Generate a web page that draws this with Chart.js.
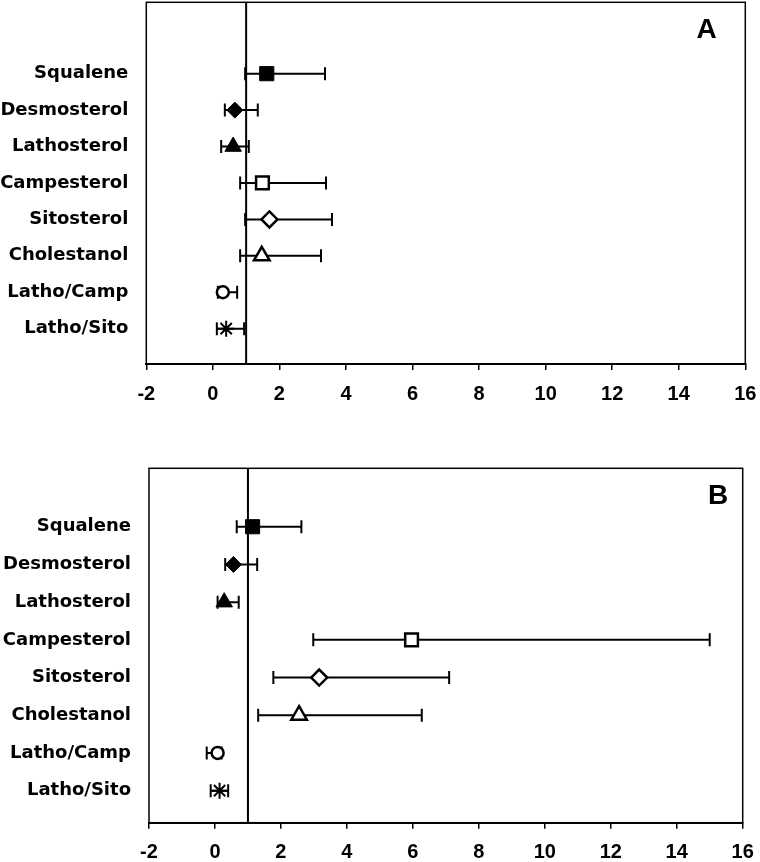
<!DOCTYPE html>
<html><head><meta charset="utf-8">
<script src="https://cdn.jsdelivr.net/npm/chart.js@4.4.1/dist/chart.umd.min.js"></script>
<style>
html,body{margin:0;padding:0;background:#fff;}
#wrap{position:relative;width:760px;height:862px;overflow:hidden;}
canvas{position:absolute;left:0;}
</style></head><body>
<div id="wrap">
<canvas id="cA" width="760" height="430" style="top:0px"></canvas>
<canvas id="cB" width="760" height="432" style="top:430px"></canvas>
</div>
<script>
// ---- data ----
const categories = ['Squalene','Desmosterol','Lathosterol','Campesterol','Sitosterol','Cholestanol','Latho/Camp','Latho/Sito'];
const xTickValues = [-2,0,2,4,6,8,10,12,14,16];
const referenceValue = 1;
const panelLetters = ['A','B'];

const meanA = [1.62, 0.66, 0.61, 1.49, 1.70, 1.47, 0.30, 0.40];
const lowA  = [0.97, 0.36, 0.25, 0.82, 0.97, 0.82, 0.15, 0.12];
const highA = [3.37, 1.35, 1.08, 3.40, 3.58, 3.25, 0.73, 0.94];

const meanB = [1.14, 0.56, 0.28, 5.96, 3.16, 2.55, 0.08, 0.14];
const lowB  = [0.66, 0.31, 0.08, 2.98, 1.77, 1.31, -0.25, -0.13];
const highB = [2.62, 1.28, 0.72, 15.0, 7.10, 6.27, 0.20, 0.40];

// ---- styles ----
const markerStyle  = ['rect','rectRot','triangle','rect','rectRot','triangle','circle','star'];
const markerFill   = ['#000','#000','#000','#fff','#fff','#fff','#fff','#fff'];
const markerRadius = [10, 8, 9.5, 9, 8, 9, 6, 8];
const markerBorder = [1, 1, 1, 2.5, 2.5, 2.5, 2.5, 2];

const rows = categories.map((c, i) => categories.length - i);

const framePlugin = {
  id: 'frame',
  afterDraw(chart, args, opts) {
    const { ctx, chartArea: a } = chart;
    ctx.save();
    ctx.strokeStyle = '#000';
    ctx.lineWidth = 1.5;
    ctx.strokeRect(a.left, a.top, a.right - a.left, a.bottom - a.top);
    ctx.font = 'bold 28px "Liberation Sans", Arial, sans-serif';
    ctx.fillStyle = '#000';
    ctx.textAlign = 'center';
    ctx.textBaseline = 'middle';
    ctx.fillText(opts.letter, a.right - opts.dx, a.top + opts.dy);
    ctx.restore();
  }
};

function makeChart(id, means, lows, highs, letter, L) {
  const datasets = [];
  datasets.push({
    type: 'scatter', order: 0,
    data: means.map((m, i) => ({ x: m, y: rows[i] })),
    pointStyle: markerStyle,
    pointRadius: markerRadius,
    pointHoverRadius: markerRadius,
    pointBackgroundColor: markerFill,
    pointBorderColor: '#000',
    pointBorderWidth: markerBorder,
    pointHoverBorderWidth: markerBorder
  });
  datasets.push({
    type: 'scatter', order: 1,
    data: [{ x: referenceValue, y: L.yMin }, { x: referenceValue, y: L.yMax }],
    showLine: true, borderColor: '#000', borderWidth: 2, pointRadius: 0
  });
  categories.forEach((c, i) => {
    datasets.push({
      type: 'scatter', order: 2,
      data: [{ x: lows[i], y: rows[i] }, { x: highs[i], y: rows[i] }],
      showLine: true, borderColor: '#000', borderWidth: 2,
      pointStyle: 'line', pointRotation: 90, pointRadius: 6.5, pointHoverRadius: 6.5,
      pointBorderColor: '#000', pointBorderWidth: 2
    });
  });

  return new Chart(document.getElementById(id), {
    type: 'scatter',
    data: { datasets },
    plugins: [framePlugin],
    options: {
      responsive: false,
      animation: false,
      events: [],
      devicePixelRatio: 1,
      layout: { autoPadding: false, padding: { top: L.padTop, right: L.padRight, left: 0, bottom: 0 } },
      plugins: {
        legend: { display: false },
        tooltip: { enabled: false },
        frame: { letter: letter, dx: L.letterDx, dy: L.letterDy }
      },
      scales: {
        x: {
          type: 'linear', min: -2, max: 16,
          afterBuildTicks: s => { s.ticks = xTickValues.map(v => ({ value: v })); },
          afterFit: s => { s.height = L.xHeight; s.paddingLeft = 0; s.paddingRight = 0; },
          grid: { display: true, drawOnChartArea: false, drawTicks: true, tickLength: 6, color: '#000', lineWidth: 1.5 },
          border: { display: true, color: '#000', width: 2 },
          ticks: { color: '#000', padding: L.xPad, maxRotation: 0, autoSkip: false,
                   font: { family: '"Liberation Sans", Arial, sans-serif', size: 20, weight: 'bold' } }
        },
        y: {
          type: 'linear', min: L.yMin, max: L.yMax,
          afterBuildTicks: s => { s.ticks = rows.map(v => ({ value: v })); },
          afterFit: s => { s.width = L.yWidth; s.paddingTop = 0; s.paddingBottom = 0; },
          grid: { display: false, drawTicks: false },
          border: { display: false },
          ticks: { color: '#000', padding: 18, autoSkip: false,
                   callback: v => categories[categories.length - v],
                   font: { family: '"DejaVu Sans", sans-serif', size: 18, weight: 'bold' } }
        }
      }
    }
  });
}

makeChart('cA', meanA, lowA, highA, panelLetters[0],
  { yMin: 0.03, yMax: 9.96, yWidth: 146.3, padRight: 14.7, padTop: 2.3, xHeight: 66, xPad: 12, letterDx: 38.6, letterDy: 27.7 });
makeChart('cB', meanB, lowB, highB, panelLetters[1],
  { yMin: 0.15, yMax: 9.55, yWidth: 149, padRight: 17.3, padTop: 38.3, xHeight: 39.3, xPad: 12, letterDx: 24.7, letterDy: 27.7 });
</script>
</body></html>
